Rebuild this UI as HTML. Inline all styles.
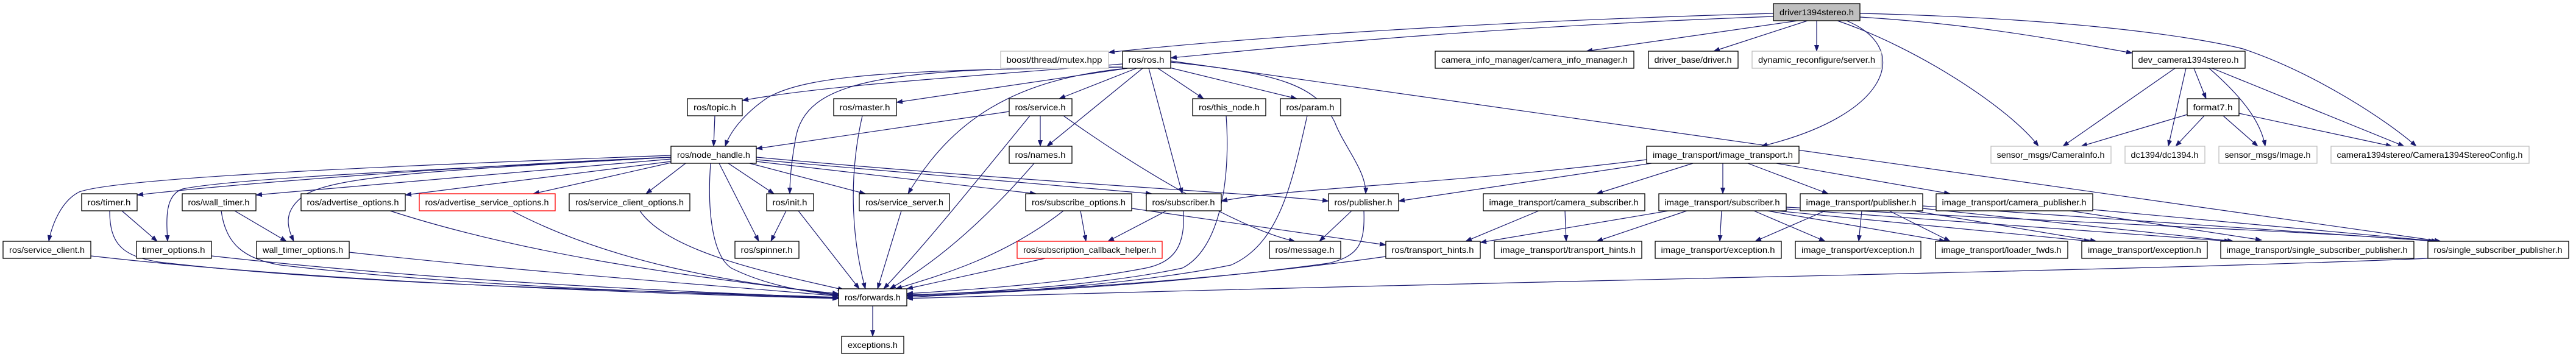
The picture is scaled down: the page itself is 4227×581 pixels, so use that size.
<!DOCTYPE html>
<html><head><meta charset="utf-8"><style>html,body{margin:0;padding:0;background:#fff}svg{display:block}</style></head>
<body>
<svg xmlns="http://www.w3.org/2000/svg" width="4227" height="581" viewBox="0 0 4227 581">
<defs><marker id="a" markerWidth="11" markerHeight="8" refX="10" refY="4" orient="auto" markerUnits="userSpaceOnUse"><path d="M0,0 L11,4 L0,8z" fill="#191970"/></marker></defs>
<g fill="none" stroke="#191970" stroke-width="1.2" marker-end="url(#a)">
<path d="M2910,22 C2400,36 2000,66 1819,86"/>
<path d="M2910,27 C2400,46 2100,78 1921,95"/>
<path d="M2950,34 L2603,84"/>
<path d="M2966,34 L2812,84"/>
<path d="M2981,34 L2981,84"/>
<path d="M3030,34 C3140,80 3100,190 2890,240"/>
<path d="M3015,34 C3150,80 3300,180 3345,240"/>
<path d="M3052,28 C3250,40 3400,70 3499,87"/>
<path d="M3052,22 C3400,30 3600,60 3680,80 C3800,120 3920,200 3965,240"/>
<path d="M1842,105 C1600,125 1350,140 1218,165"/>
<path d="M1845,110 C1500,115 1330,120 1260,160 C1230,180 1200,210 1190,240"/>
<path d="M1850,112 L1471,168"/>
<path d="M1865,112 L1738,162"/>
<path d="M1875,112 L1718,240"/>
<path d="M1845,110 C1450,112 1320,130 1305,230 C1298,270 1296,300 1296,318"/>
<path d="M1850,112 C1660,130 1560,200 1490,318"/>
<path d="M1885,112 L1940,318"/>
<path d="M1900,112 L1975,162"/>
<path d="M1915,110 L2128,162"/>
<path d="M1921,102 C2100,120 2160,140 2190,200 C2205,240 2242,280 2241,318"/>
<path d="M1921,100 L4005,396"/>
<path d="M1173,190 L1171,240"/>
<path d="M1656,183 L1241,244"/>
<path d="M1707,190 L1707,240"/>
<path d="M1690,190 C1600,300 1520,400 1450,474"/>
<path d="M1745,190 C1900,300 2050,380 2125,396"/>
<path d="M1415,190 C1390,300 1400,400 1420,474"/>
<path d="M1697,268 C1600,380 1520,440 1460,474"/>
<path d="M2012,190 C2020,300 2000,410 1940,440 C1800,470 1600,480 1488,485"/>
<path d="M2145,190 C2120,300 2100,400 2020,435 C1850,470 1600,482 1488,488"/>
<path d="M1101,255 C700,270 200,290 130,315 C100,330 85,370 80,396"/>
<path d="M1101,258 C800,270 400,300 225,320"/>
<path d="M1101,258 C800,275 400,290 300,310 C270,320 273,360 275,396"/>
<path d="M1101,261 L420,320"/>
<path d="M1101,258 C700,280 550,290 500,320 C465,345 470,370 482,396"/>
<path d="M1101,265 L665,320"/>
<path d="M1101,267 L875,318"/>
<path d="M1125,268 L1060,318"/>
<path d="M1195,268 L1270,318"/>
<path d="M1180,268 L1245,396"/>
<path d="M1230,268 L1420,318"/>
<path d="M1241,265 L1700,318"/>
<path d="M1241,262 L1890,318"/>
<path d="M1241,258 C1700,300 2100,320 2180,330"/>
<path d="M1166,268 C1160,350 1170,420 1200,440 C1260,470 1330,480 1376,485"/>
<path d="M200,346 L258,396"/>
<path d="M180,346 C180,400 200,420 260,430 C600,470 1100,478 1376,488"/>
<path d="M385,346 L470,396"/>
<path d="M363,346 C370,400 400,425 460,435 C800,475 1200,482 1376,490"/>
<path d="M640,346 C900,430 1200,460 1376,484"/>
<path d="M840,346 C1000,430 1200,465 1376,482"/>
<path d="M1050,346 C1100,420 1300,455 1385,476"/>
<path d="M1290,346 L1265,396"/>
<path d="M1310,346 L1410,474"/>
<path d="M1479,346 L1440,474"/>
<path d="M1773,346 L1782,396"/>
<path d="M1745,346 C1650,420 1550,450 1470,474"/>
<path d="M1857,342 L2274,402"/>
<path d="M1914,346 L1818,396"/>
<path d="M1942,346 C1945,400 1930,430 1880,440 C1750,465 1600,475 1488,482"/>
<path d="M2218,346 L2165,396"/>
<path d="M2238,346 C2240,400 2230,420 2180,432 C1900,470 1650,480 1488,486"/>
<path d="M149,420 C500,460 1000,480 1376,490"/>
<path d="M347,420 C700,460 1100,478 1376,489"/>
<path d="M573,414 C900,450 1200,470 1376,486"/>
<path d="M1715,424 L1488,474"/>
<path d="M2274,421 C2000,460 1700,478 1488,484"/>
<path d="M3984,424 C3500,445 2500,460 1488,490"/>
<path d="M1432,502 L1432,552"/>
<path d="M2702,262 C2400,300 2100,310 2004,330"/>
<path d="M2710,268 L2295,330"/>
<path d="M2778,268 L2620,318"/>
<path d="M2827,268 L2827,318"/>
<path d="M2868,268 L3000,318"/>
<path d="M2915,268 L3200,318"/>
<path d="M2525,346 L2405,396"/>
<path d="M2568,346 L2570,396"/>
<path d="M2738,346 L2429,398"/>
<path d="M2768,346 L2620,396"/>
<path d="M2825,346 L2822,396"/>
<path d="M2878,346 L2995,396"/>
<path d="M2900,346 L3192,396"/>
<path d="M2915,346 L3430,396"/>
<path d="M2931,343 L3660,396"/>
<path d="M2931,340 C3500,370 3800,380 3995,396"/>
<path d="M2995,346 L2880,396"/>
<path d="M3055,346 L3050,396"/>
<path d="M3100,346 L3200,396"/>
<path d="M3140,346 L3440,396"/>
<path d="M3155,342 L3665,396"/>
<path d="M3155,338 L4000,396"/>
<path d="M3397,346 L3711,394"/>
<path d="M3434,344 L4000,396"/>
<path d="M3569,112 L3385,240"/>
<path d="M3587,112 L3558,240"/>
<path d="M3600,112 L3620,162"/>
<path d="M3625,112 C3680,160 3710,200 3717,240"/>
<path d="M3630,112 L3945,240"/>
<path d="M3589,188 L3415,240"/>
<path d="M3617,190 L3570,240"/>
<path d="M3648,190 L3705,240"/>
<path d="M3674,186 L3925,240"/>
</g>
<g font-family="Liberation Sans, sans-serif" font-size="14" text-anchor="middle" fill="#000">
<g stroke="#000" stroke-width="1.3" fill="#fff">
<rect x="2910" y="6" width="142" height="28" fill="#bfbfbf"/>
<rect x="1842" y="84" width="79" height="28"/>
<rect x="2355" y="84" width="326" height="28"/>
<rect x="2705" y="84" width="147" height="28"/>
<rect x="3499" y="84" width="185" height="28"/>
<rect x="1128" y="162" width="90" height="28"/>
<rect x="1368" y="162" width="103" height="28"/>
<rect x="1656" y="162" width="103" height="28"/>
<rect x="1957" y="162" width="120" height="28"/>
<rect x="2101" y="162" width="99" height="28"/>
<rect x="3589" y="162" width="85" height="28"/>
<rect x="1101" y="240" width="140" height="28"/>
<rect x="1656" y="240" width="103" height="28"/>
<rect x="2702" y="240" width="250" height="28"/>
<rect x="134" y="318" width="91" height="28"/>
<rect x="299" y="318" width="121" height="28"/>
<rect x="494" y="318" width="171" height="28"/>
<rect x="934" y="318" width="198" height="28"/>
<rect x="1258" y="318" width="77" height="28"/>
<rect x="1410" y="318" width="148" height="28"/>
<rect x="1683" y="318" width="174" height="28"/>
<rect x="1881" y="318" width="123" height="28"/>
<rect x="2180" y="318" width="115" height="28"/>
<rect x="2434" y="318" width="265" height="28"/>
<rect x="2722" y="318" width="209" height="28"/>
<rect x="2954" y="318" width="201" height="28"/>
<rect x="3177" y="318" width="257" height="28"/>
<rect x="5" y="396" width="144" height="28"/>
<rect x="224" y="396" width="123" height="28"/>
<rect x="421" y="396" width="152" height="28"/>
<rect x="1206" y="396" width="105" height="28"/>
<rect x="2083" y="396" width="117" height="28"/>
<rect x="2274" y="396" width="155" height="28"/>
<rect x="2452" y="396" width="242" height="28"/>
<rect x="2716" y="396" width="207" height="28"/>
<rect x="2946" y="396" width="206" height="28"/>
<rect x="3176" y="396" width="217" height="28"/>
<rect x="3416" y="396" width="206" height="28"/>
<rect x="3644" y="396" width="317" height="28"/>
<rect x="3984" y="396" width="231" height="28"/>
<rect x="1376" y="474" width="112" height="28"/>
<rect x="1381" y="552" width="102" height="28"/>
</g>
<g stroke="#bfbfbf" stroke-width="1.3" fill="#fff">
<rect x="1642" y="84" width="177" height="28"/>
<rect x="2875" y="84" width="212" height="28"/>
<rect x="3267" y="240" width="197" height="28"/>
<rect x="3487" y="240" width="131" height="28"/>
<rect x="3641" y="240" width="161" height="28"/>
<rect x="3825" y="240" width="325" height="28"/>
</g>
<g stroke="#ff0000" stroke-width="1.3" fill="#fff">
<rect x="688" y="318" width="223" height="28"/>
<rect x="1669" y="396" width="238" height="28"/>
</g>
<text x="2981" y="25" textLength="122" lengthAdjust="spacingAndGlyphs">driver1394stereo.h</text>
<text x="1730" y="103" textLength="157" lengthAdjust="spacingAndGlyphs">boost/thread/mutex.hpp</text>
<text x="1881" y="103" textLength="59" lengthAdjust="spacingAndGlyphs">ros/ros.h</text>
<text x="2518" y="103" textLength="306" lengthAdjust="spacingAndGlyphs">camera_info_manager/camera_info_manager.h</text>
<text x="2778" y="103" textLength="127" lengthAdjust="spacingAndGlyphs">driver_base/driver.h</text>
<text x="2981" y="103" textLength="192" lengthAdjust="spacingAndGlyphs">dynamic_reconfigure/server.h</text>
<text x="3591" y="103" textLength="165" lengthAdjust="spacingAndGlyphs">dev_camera1394stereo.h</text>
<text x="1173" y="181" textLength="70" lengthAdjust="spacingAndGlyphs">ros/topic.h</text>
<text x="1419" y="181" textLength="83" lengthAdjust="spacingAndGlyphs">ros/master.h</text>
<text x="1707" y="181" textLength="83" lengthAdjust="spacingAndGlyphs">ros/service.h</text>
<text x="2017" y="181" textLength="100" lengthAdjust="spacingAndGlyphs">ros/this_node.h</text>
<text x="2150" y="181" textLength="79" lengthAdjust="spacingAndGlyphs">ros/param.h</text>
<text x="3631" y="181" textLength="65" lengthAdjust="spacingAndGlyphs">format7.h</text>
<text x="1171" y="259" textLength="120" lengthAdjust="spacingAndGlyphs">ros/node_handle.h</text>
<text x="1707" y="259" textLength="83" lengthAdjust="spacingAndGlyphs">ros/names.h</text>
<text x="2827" y="259" textLength="230" lengthAdjust="spacingAndGlyphs">image_transport/image_transport.h</text>
<text x="3365" y="259" textLength="177" lengthAdjust="spacingAndGlyphs">sensor_msgs/CameraInfo.h</text>
<text x="3552" y="259" textLength="111" lengthAdjust="spacingAndGlyphs">dc1394/dc1394.h</text>
<text x="3721" y="259" textLength="141" lengthAdjust="spacingAndGlyphs">sensor_msgs/Image.h</text>
<text x="3987" y="259" textLength="305" lengthAdjust="spacingAndGlyphs">camera1394stereo/Camera1394StereoConfig.h</text>
<text x="179" y="337" textLength="71" lengthAdjust="spacingAndGlyphs">ros/timer.h</text>
<text x="359" y="337" textLength="101" lengthAdjust="spacingAndGlyphs">ros/wall_timer.h</text>
<text x="579" y="337" textLength="151" lengthAdjust="spacingAndGlyphs">ros/advertise_options.h</text>
<text x="799" y="337" textLength="203" lengthAdjust="spacingAndGlyphs">ros/advertise_service_options.h</text>
<text x="1033" y="337" textLength="178" lengthAdjust="spacingAndGlyphs">ros/service_client_options.h</text>
<text x="1296" y="337" textLength="57" lengthAdjust="spacingAndGlyphs">ros/init.h</text>
<text x="1484" y="337" textLength="128" lengthAdjust="spacingAndGlyphs">ros/service_server.h</text>
<text x="1770" y="337" textLength="154" lengthAdjust="spacingAndGlyphs">ros/subscribe_options.h</text>
<text x="1942" y="337" textLength="103" lengthAdjust="spacingAndGlyphs">ros/subscriber.h</text>
<text x="2237" y="337" textLength="95" lengthAdjust="spacingAndGlyphs">ros/publisher.h</text>
<text x="2566" y="337" textLength="245" lengthAdjust="spacingAndGlyphs">image_transport/camera_subscriber.h</text>
<text x="2826" y="337" textLength="189" lengthAdjust="spacingAndGlyphs">image_transport/subscriber.h</text>
<text x="3054" y="337" textLength="181" lengthAdjust="spacingAndGlyphs">image_transport/publisher.h</text>
<text x="3305" y="337" textLength="237" lengthAdjust="spacingAndGlyphs">image_transport/camera_publisher.h</text>
<text x="77" y="415" textLength="124" lengthAdjust="spacingAndGlyphs">ros/service_client.h</text>
<text x="285" y="415" textLength="103" lengthAdjust="spacingAndGlyphs">timer_options.h</text>
<text x="497" y="415" textLength="132" lengthAdjust="spacingAndGlyphs">wall_timer_options.h</text>
<text x="1258" y="415" textLength="85" lengthAdjust="spacingAndGlyphs">ros/spinner.h</text>
<text x="1788" y="415" textLength="218" lengthAdjust="spacingAndGlyphs">ros/subscription_callback_helper.h</text>
<text x="2141" y="415" textLength="97" lengthAdjust="spacingAndGlyphs">ros/message.h</text>
<text x="2351" y="415" textLength="135" lengthAdjust="spacingAndGlyphs">ros/transport_hints.h</text>
<text x="2573" y="415" textLength="222" lengthAdjust="spacingAndGlyphs">image_transport/transport_hints.h</text>
<text x="2819" y="415" textLength="187" lengthAdjust="spacingAndGlyphs">image_transport/exception.h</text>
<text x="3049" y="415" textLength="186" lengthAdjust="spacingAndGlyphs">image_transport/exception.h</text>
<text x="3284" y="415" textLength="197" lengthAdjust="spacingAndGlyphs">image_transport/loader_fwds.h</text>
<text x="3519" y="415" textLength="186" lengthAdjust="spacingAndGlyphs">image_transport/exception.h</text>
<text x="3802" y="415" textLength="297" lengthAdjust="spacingAndGlyphs">image_transport/single_subscriber_publisher.h</text>
<text x="4099" y="415" textLength="211" lengthAdjust="spacingAndGlyphs">ros/single_subscriber_publisher.h</text>
<text x="1432" y="493" textLength="92" lengthAdjust="spacingAndGlyphs">ros/forwards.h</text>
<text x="1432" y="571" textLength="82" lengthAdjust="spacingAndGlyphs">exceptions.h</text>
</g>
</svg>
</body></html>
